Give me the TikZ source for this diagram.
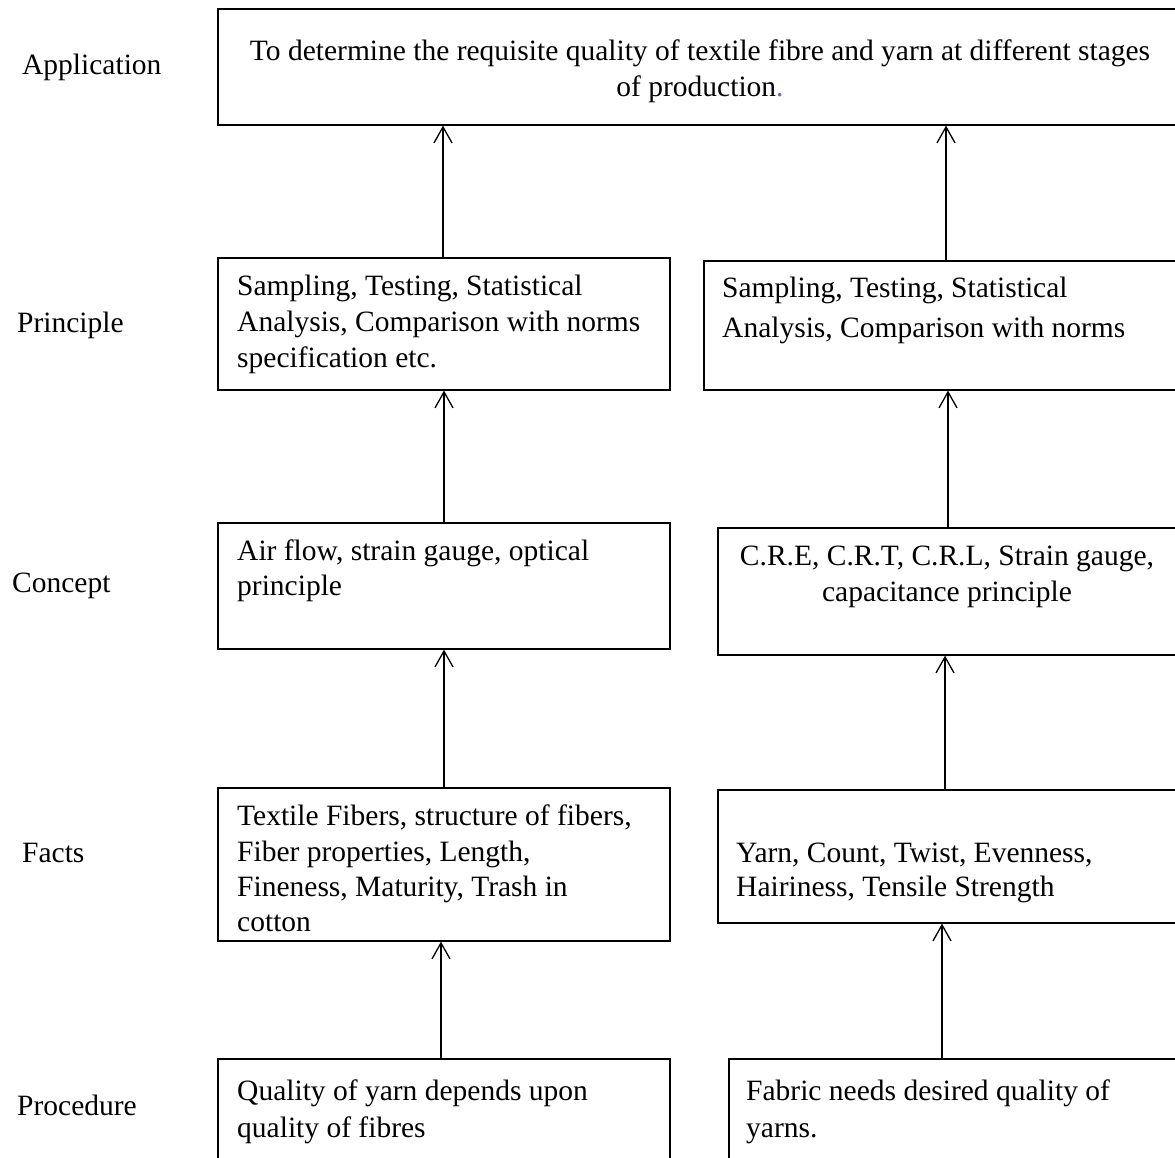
\documentclass[tikz,border=0pt]{standalone}
\usepackage{fontspec}
\setmainfont{Liberation Serif}
\usetikzlibrary{arrows.meta}
\definecolor{dotblue}{rgb}{0.35,0.45,0.6}
\begin{document}
\begin{tikzpicture}[x=1pt,y=-1pt,
  box/.style={draw,line width=1.6pt,inner sep=0pt,anchor=north west},
  txt/.style={inner sep=0pt,anchor=base west,font=\fontsize{29.5}{36}\selectfont},
  ctxt/.style={inner sep=0pt,anchor=base,font=\fontsize{29.5}{36}\selectfont},
  arr/.style={line width=1.3pt,-{Straight Barb[length=16pt,width=18pt,line width=1.3pt]}}]
\useasboundingbox (0,0) rectangle (1175,1158);
\fill[white] (0,0) rectangle (1175,1158);
\clip (0,0) rectangle (1175,1158);

% boxes
\node[box,minimum width=973pt,minimum height=116pt] (app) at (217,8) {};
\node[box,minimum width=452pt,minimum height=132pt] (pL) at (217,257) {};
\node[box,minimum width=487pt,minimum height=129pt] (pR) at (703,260) {};
\node[box,minimum width=452pt,minimum height=126pt] (cL) at (217,522) {};
\node[box,minimum width=473pt,minimum height=127pt] (cR) at (717,527) {};
\node[box,minimum width=452pt,minimum height=153pt] (fL) at (217,787) {};
\node[box,minimum width=473pt,minimum height=133pt] (fR) at (717,789) {};
\node[box,minimum width=452pt,minimum height=130pt] (qL) at (217,1058) {};
\node[box,minimum width=462pt,minimum height=130pt] (qR) at (728,1058) {};

% row labels
\node[txt] (lApp) at (22,75) {Application};
\node[txt] (lPri) at (17,332) {Principle};
\node[txt] (lCon) at (12,592) {Concept};
\node[txt] (lFac) at (22,862) {Facts};
\node[txt] (lPro) at (17,1115) {Procedure};

% application text
\node[ctxt] (a1) at (700,61) {To determine the requisite quality of textile fibre and yarn at different stages};
\node[ctxt] (a2) at (700,97) {of production\textcolor{dotblue}{.}};

% principle
\node[txt] (p1) at (237,295) {Sampling, Testing, Statistical};
\node[txt] (p2) at (237,331) {Analysis, Comparison with norms};
\node[txt] (p3) at (237,367) {specification etc.};
\node[txt] (r1) at (722,298) {Sampling, Testing, Statistical};
\node[txt] (r2) at (722,337) {Analysis, Comparison with norms};

% concept
\node[txt] (c1) at (237,560) {Air flow, strain gauge, optical};
\node[txt] (c2) at (237,595) {principle};
\node[ctxt] (d1) at (947,565) {C.R.E, C.R.T, C.R.L, Strain gauge,};
\node[ctxt] (d2) at (947,601) {capacitance principle};

% facts
\node[txt] (f1) at (237,825) {Textile Fibers, structure of fibers,};
\node[txt] (f2) at (237,861) {Fiber properties, Length,};
\node[txt] (f3) at (237,896) {Fineness, Maturity, Trash in};
\node[txt] (f4) at (237,931) {cotton};
\node[txt] (g1) at (736,862) {Yarn, Count, Twist, Evenness,};
\node[txt] (g2) at (736,896) {Hairiness, Tensile Strength};

% procedure
\node[txt] (q1) at (237,1100) {Quality of yarn depends upon};
\node[txt] (q2) at (237,1137) {quality of fibres};
\node[txt] (s1) at (746,1100) {Fabric needs desired quality of};
\node[txt] (s2) at (746,1137) {yarns.};

% arrow x positions
\coordinate (xa) at (443,0);
\coordinate (xb) at (946,0);
\coordinate (xc) at (444,0);
\coordinate (xd) at (948,0);
\coordinate (xe) at (444,0);
\coordinate (xf) at (945,0);
\coordinate (xg) at (441,0);
\coordinate (xh) at (942,0);

% connectors
\draw[arr] (pL.north -| xa) -- (app.south -| xa);
\draw[arr] (pR.north -| xb) -- (app.south -| xb);
\draw[arr] (cL.north -| xc) -- (pL.south -| xc);
\draw[arr] (cR.north -| xd) -- (pR.south -| xd);
\draw[arr] (fL.north -| xe) -- (cL.south -| xe);
\draw[arr] (fR.north -| xf) -- (cR.south -| xf);
\draw[arr] (qL.north -| xg) -- (fL.south -| xg);
\draw[arr] (qR.north -| xh) -- (fR.south -| xh);
\end{tikzpicture}
\end{document}
